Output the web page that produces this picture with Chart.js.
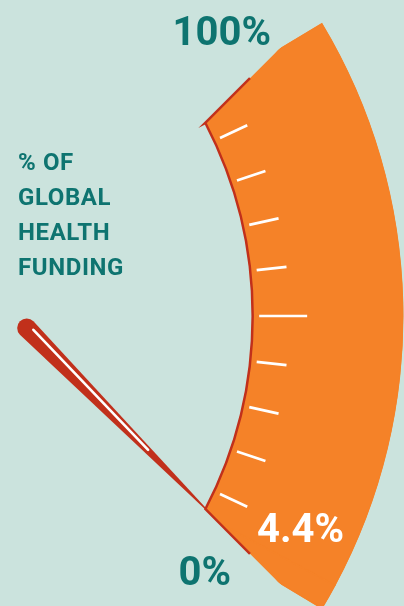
<!DOCTYPE html>
<html>
<head>
<meta charset="utf-8">
<script src="https://cdn.jsdelivr.net/npm/chart.js@4"></script>
<style>
  html, body { margin: 0; padding: 0; background: #cbe3dd; overflow: hidden; }
  #wrap { position: absolute; left: 0; top: 0; width: 404px; height: 640px; }
</style>
</head>
<body>
<div id="wrap"><canvas id="gauge" width="404" height="640"></canvas></div>
<script>
// data
const categories = ['Rest of global health funding', 'Share of global health funding'];
const total = 100;
const share = 4.4;
const tickValues = [10, 20, 30, 40, 50, 60, 70, 80, 90];
const endLabels = ['0%', '100%'];
const axisTitle = ['% OF', 'GLOBAL', 'HEALTH', 'FUNDING'];

const ORANGE = '#f58228';
const RED = '#c1301b';
const TEAL = '#0e7470';
const cornerDeg = 27.5; // inner corners of the band

const rad = d => d * Math.PI / 180;

function geom(chart) {
  const meta = chart.getDatasetMeta(0);
  const a0 = meta.data[0], a1 = meta.data[1];
  const cx = a0.x, cy = a0.y, rin = a0.innerRadius, rout = a0.outerRadius;
  const top = a0.startAngle, bottom = a1.endAngle;
  const phi = rad(cornerDeg);
  const P = {x: cx + rin * Math.cos(phi), y: cy - rin * Math.sin(phi)};
  const Q = {x: cx + rin * Math.cos(phi), y: cy + rin * Math.sin(phi)};
  const angleOf = v => bottom - (v / total) * (bottom - top);
  return {cx, cy, rin, rout, phi, P, Q, angleOf, valueAngle: a1.startAngle};
}

const gaugeDeco = {
  id: 'gaugeDeco',
  beforeDatasetsDraw(chart) {
    const ctx = chart.ctx;
    const g = geom(chart);
    ctx.save();
    ctx.beginPath();
    ctx.moveTo(g.P.x, g.P.y);
    ctx.lineTo(g.P.x + 900, g.P.y - 900);
    ctx.lineTo(g.Q.x + 900, g.Q.y + 900);
    ctx.lineTo(g.Q.x, g.Q.y);
    ctx.closePath();
    ctx.clip();
  },
  afterDatasetsDraw(chart) {
    const ctx = chart.ctx;
    ctx.restore();
    const g = geom(chart);

    // red inner outline
    ctx.save();
    ctx.strokeStyle = RED;
    ctx.lineWidth = 2.5;
    ctx.lineJoin = 'miter';
    ctx.beginPath();
    ctx.moveTo(g.P.x + 45, g.P.y - 45);
    ctx.lineTo(g.P.x, g.P.y);
    ctx.arc(g.cx, g.cy, g.rin + 0.5, -g.phi, g.phi);
    ctx.lineTo(g.Q.x + 45, g.Q.y + 45);
    ctx.stroke();

    // ticks
    ctx.strokeStyle = '#ffffff';
    ctx.lineWidth = 2.7;
    tickValues.forEach(v => {
      const a = g.angleOf(v);
      const r0 = g.rin + 7;
      const r1 = r0 + (v === 50 ? 48 : 30);
      ctx.beginPath();
      ctx.moveTo(g.cx + r0 * Math.cos(a), g.cy + r0 * Math.sin(a));
      ctx.lineTo(g.cx + r1 * Math.cos(a), g.cy + r1 * Math.sin(a));
      ctx.stroke();
    });

    // needle
    const tr = g.rin + 20;
    const tip = {x: g.cx + tr * Math.cos(g.valueAngle), y: g.cy + tr * Math.sin(g.valueAngle)};
    const piv = {x: g.cx + 0.46 * g.rin, y: g.cy + 12};
    const dx = tip.x - piv.x, dy = tip.y - piv.y;
    const len = Math.hypot(dx, dy);
    const ux = dx / len, uy = dy / len;
    const nx = uy, ny = -ux; // upper side
    const rp = 9.5;
    const base = Math.atan2(ny, nx);
    ctx.fillStyle = RED;
    ctx.beginPath();
    ctx.moveTo(tip.x, tip.y);
    ctx.lineTo(piv.x - nx * rp, piv.y - ny * rp);
    ctx.arc(piv.x, piv.y, rp, base + Math.PI, base, false);
    ctx.closePath();
    ctx.fill();
    ctx.strokeStyle = '#ffffff';
    ctx.lineWidth = 2.6;
    ctx.lineCap = 'round';
    ctx.beginPath();
    ctx.moveTo(piv.x + ux * 6 + nx * 3.5, piv.y + uy * 6 + ny * 3.5);
    ctx.lineTo(piv.x + ux * 172 + nx * 0.6, piv.y + uy * 172 + ny * 0.6);
    ctx.stroke();

    // labels
    ctx.textBaseline = 'alphabetic';
    ctx.fillStyle = TEAL;
    ctx.font = 'bold 40px Roboto';
    ctx.textAlign = 'right';
    ctx.fillText(endLabels[1], 271, 45);
    ctx.fillText(endLabels[0], 231, 585);
    ctx.fillStyle = '#ffffff';
    ctx.font = 'bold 40px Roboto';
    ctx.textAlign = 'left';
    ctx.fillText(share + '%', g.Q.x + 52, g.Q.y + 33);
    ctx.fillStyle = TEAL;
    ctx.font = 'bold 24px Roboto';
    ctx.letterSpacing = '0.6px';
    axisTitle.forEach((t, i) => ctx.fillText(t, 18, 170 + i * 35));
    ctx.restore();
  }
};

new Chart(document.getElementById('gauge'), {
  type: 'doughnut',
  data: {
    labels: categories,
    datasets: [{
      data: [total - share, share],
      backgroundColor: [ORANGE, ORANGE],
      borderColor: ORANGE,
      borderWidth: 1,
      borderAlign: 'inner'
    }]
  },
  options: {
    responsive: false,
    animation: false,
    events: [],
    rotation: 59,
    circumference: 62,
    cutout: '73.4%',
    layout: { padding: { left: 192, right: 0, top: 23, bottom: 31 } },
    plugins: { legend: { display: false }, tooltip: { enabled: false } }
  },
  plugins: [gaugeDeco]
});
</script>
</body>
</html>
